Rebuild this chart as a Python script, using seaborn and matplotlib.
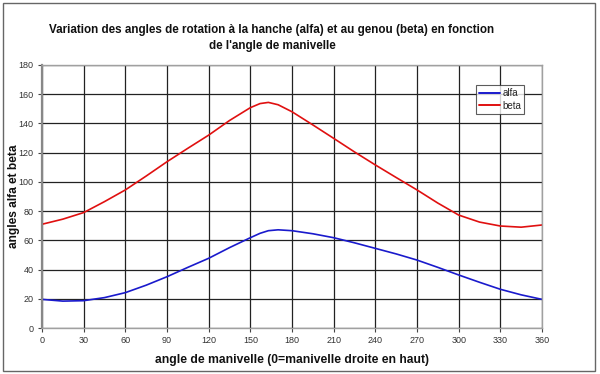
import matplotlib
matplotlib.use("Agg")
import matplotlib.pyplot as plt
import seaborn as sns
import pandas as pd
from matplotlib.patches import Rectangle

angle = [0, 15, 30, 45, 60, 75, 90, 105, 120, 135, 150, 157, 163, 170, 180, 195, 210, 225, 240, 255, 270, 285, 300, 315, 330, 345, 360]
alfa = [19.6, 18.4, 18.7, 20.8, 24.2, 29.3, 35.1, 41.5, 47.7, 55.0, 61.8, 64.8, 66.6, 67.2, 66.6, 64.5, 61.8, 58.3, 54.5, 50.7, 46.5, 41.5, 36.3, 31.3, 26.5, 22.7, 19.6]
beta = [71.0, 74.5, 79.0, 86.5, 94.5, 104.0, 113.8, 123.0, 132.0, 142.0, 150.8, 153.6, 154.4, 152.8, 148.0, 139.0, 129.8, 120.5, 111.6, 103.0, 94.5, 85.5, 77.3, 72.5, 69.8, 69.0, 70.5]
series_names = ["alfa", "beta"]
xticks = list(range(0, 361, 30))
yticks = list(range(0, 181, 20))

title = "Variation des angles de rotation à la hanche (alfa) et au genou (beta) en fonction\nde l'angle de manivelle"
xlabel = "angle de manivelle (0=manivelle droite en haut)"
ylabel = "angles alfa et beta"

df = pd.DataFrame({"angle": angle * 2,
                   "valeur": alfa + beta,
                   "serie": [series_names[0]] * len(angle) + [series_names[1]] * len(angle)})

sns.set_theme(style="white")
plt.rcParams['font.family'] = ['Liberation Sans', 'DejaVu Sans']

fig = plt.figure(figsize=(6.0, 3.74), dpi=100)
ax = fig.add_axes([42/600, 1 - 328/374, 500/600, 263/374])

sns.lineplot(data=df, x="angle", y="valeur", hue="serie",
             palette={"alfa": "#1a1acc", "beta": "#e01010"},
             linewidth=1.2, ax=ax, legend=True)

ax.set_xlim(0, 360)
ax.set_ylim(0, 180)
ax.set_xticks(xticks)
ax.set_yticks(yticks)
ax.grid(True, color="#222222", linewidth=0.9)
ax.set_axisbelow(True)
for s in ax.spines.values():
    s.set_color("#a0a0a0")
    s.set_linewidth(1.0)
ax.spines["left"].set_linewidth(1.6)
ax.spines["left"].set_color("#888888")
ax.tick_params(axis="both", which="both", direction="out", length=3, width=0.8,
               color="#444444", labelsize=6.5, labelcolor="#333333", pad=3,
               left=True, bottom=True)

ax.set_xlabel(xlabel, fontsize=8.7, fontweight="bold", color="#111111", labelpad=6)
ax.set_ylabel(ylabel, fontsize=8.6, fontweight="bold", color="#111111")
ax.yaxis.set_label_coords(-22/500, 0.5)

fig.text(272/600, 1 - 38/374, title, ha="center", va="center", fontsize=8.4,
         fontweight="bold", color="#111111", linespacing=1.45)

leg = ax.legend(loc="upper left", bbox_to_anchor=(434/500, 1 - 20/263),
                frameon=True, fontsize=7, handlelength=2.2, handletextpad=0.2,
                borderpad=0.3, labelspacing=0.3, fancybox=False, borderaxespad=0)
leg.get_frame().set_edgecolor("#333333")
leg.get_frame().set_linewidth(0.8)
for line in leg.get_lines():
    line.set_linewidth(1.4)

fig.patches.append(Rectangle((3/600, 3/374), 592/600, 368/374, transform=fig.transFigure,
                             fill=False, edgecolor="#666666", linewidth=1.0))

fig.savefig("out.png", dpi=100)
